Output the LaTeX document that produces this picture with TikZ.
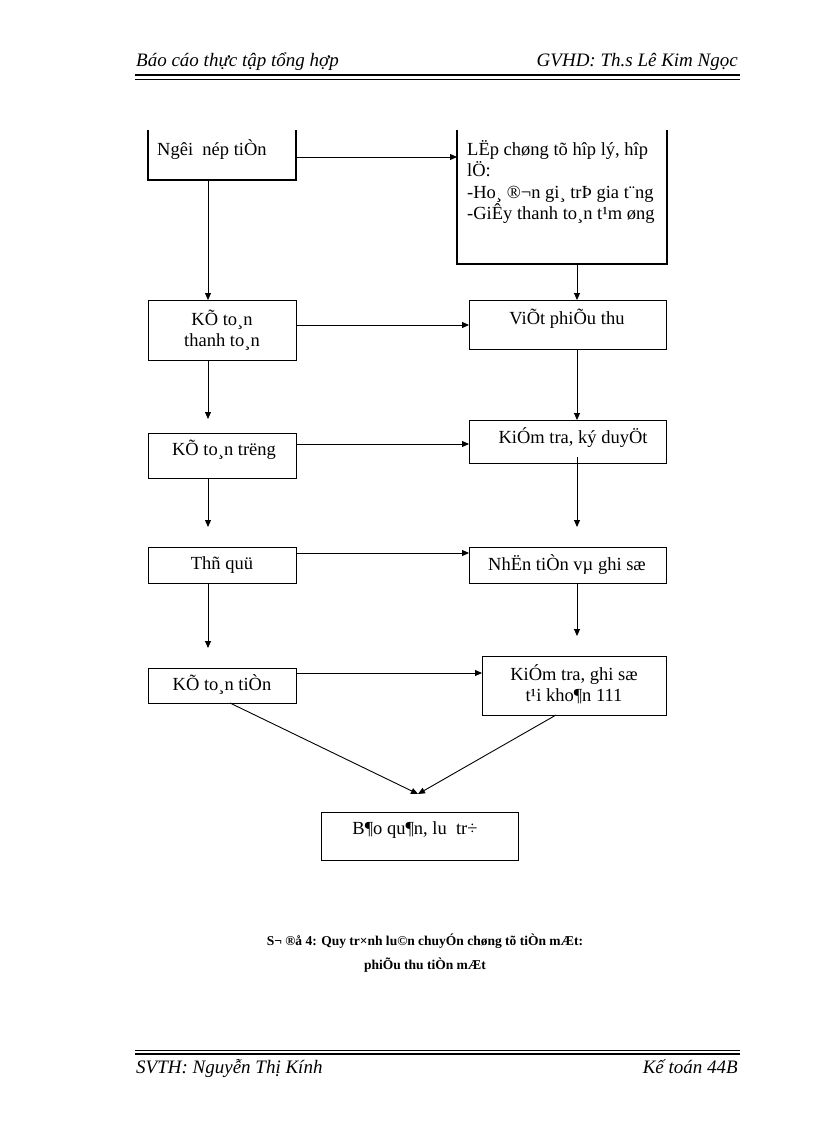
\documentclass[tikz,border=0pt]{standalone}
\usepackage{fontspec}
\setmainfont{Liberation Serif}
\usetikzlibrary{arrows.meta}
\begin{document}
\begin{tikzpicture}[x=1pt,y=-1pt,
  box/.style={draw,line width=1.1pt},
  arr/.style={-{Triangle[length=7pt,width=6pt]},line width=0.9pt},
  lab/.style={font=\fontsize{18.5}{21.5}\selectfont,align=center},
  hdr/.style={font=\fontsize{19}{22}\itshape}]
\useasboundingbox (0,0) rectangle (816,1123);
% header / footer
\node[hdr,anchor=base west,inner sep=0pt] (h1) at (136,67) {Báo cáo thực tập tổng hợp};
\node[hdr,anchor=base east,inner sep=0pt] (h2) at (738,67) {GVHD: Th.s Lê Kim Ngọc};
\draw[line width=2pt] (135,75) -- (740,75);
\draw[line width=0.6pt] (135,79) -- (740,79);
\draw[line width=0.6pt] (135,1050) -- (740,1050);
\draw[line width=2pt] (135,1054) -- (740,1054);
\node[hdr,anchor=base west,inner sep=0pt] (f1) at (136,1073) {SVTH: Nguyễn Thị Kính};
\node[hdr,anchor=base east,inner sep=0pt] (f2) at (738,1073) {Kế toán 44B};
% open-top boxes
\draw[box] (148,130) -- (148,180) -- (296,180) -- (296,130);
\draw[box] (457,130) -- (457,264) -- (667,264) -- (667,130);
\node[lab,anchor=base west,inner sep=0pt] (A) at (157,156) {Ngêi\ \ nép tiÒn};
\node[lab,anchor=north west,align=left,inner sep=0pt] (B) at (467,140) {LËp chøng tõ hîp lý, hîp\\lÖ:\\-Ho¸ ®¬n gi¸ trÞ gia t¨ng\\-GiÊy thanh to¸n t¹m øng};
\coordinate (Abot) at (208,180);
\coordinate (Aright) at (296,157);
\coordinate (Bleft) at (457,157);
\coordinate (Bbot) at (577,264);
% boxes
\node[box,minimum width=148pt,minimum height=60pt,anchor=north west,inner sep=0pt] (C) at (148,300) {};
\node[lab] (Ct) at (222,330) {KÕ to¸n\\thanh to¸n};
\node[box,minimum width=197pt,minimum height=49pt,anchor=north west,inner sep=0pt] (D) at (469,300) {};
\node[lab] (Dt) at (567,319) {ViÕt phiÕu thu};
\node[box,minimum width=148pt,minimum height=45pt,anchor=north west,inner sep=0pt] (E) at (148,433) {};
\node[lab] (Et) at (224,450) {KÕ to¸n trëng};
\node[box,minimum width=197pt,minimum height=43pt,anchor=north west,inner sep=0pt] (F) at (469,420) {};
\node[lab] (Ft) at (573,438) {KiÓm tra, ký duyÖt};
\node[box,minimum width=148pt,minimum height=36pt,anchor=north west,inner sep=0pt] (G) at (148,547) {};
\node[lab] (Gt) at (222,565) {Thñ quü};
\node[box,minimum width=197pt,minimum height=36pt,anchor=north west,inner sep=0pt] (H) at (469,547) {};
\node[lab] (Ht) at (567,565) {NhËn tiÒn vµ ghi sæ};
\node[box,minimum width=148pt,minimum height=35pt,anchor=north west,inner sep=0pt] (I) at (148,668) {};
\node[lab] (It) at (222,685) {KÕ to¸n tiÒn};
\node[box,minimum width=184pt,minimum height=59pt,anchor=north west,inner sep=0pt] (J) at (482,656) {};
\node[lab] (Jt) at (574,684) {KiÓm tra, ghi sæ\\t¹i kho¶n 111};
\node[box,minimum width=197pt,minimum height=48pt,anchor=north west,inner sep=0pt] (K) at (321,812) {};
\node[lab] (Kt) at (415,830) {B¶o qu¶n, lu\ \ tr÷};
% arrows
\coordinate (Cin) at (208,300);
\draw[arr] (Abot) -- (Cin);
\draw[arr] (Aright) -- (Bleft);
\draw[arr] (Bbot) -- (577,300);
\draw[arr] (296,325) -- (469,325);
\draw[arr] (208,360) -- (208,419);
\draw[arr] (577,349) -- (577,420);
\draw[arr] (296,444) -- (469,444);
\draw[arr] (208,478) -- (208,527);
\draw[arr] (577,457) -- (577,527);
\draw[arr] (296,553) -- (469,553);
\draw[arr] (208,583) -- (208,648);
\draw[arr] (577,583) -- (577,636);
\draw[arr] (296,673) -- (482,673);
\coordinate (Ktip) at (418,794);
\draw[arr] (230,703) -- (Ktip);
\draw[arr] (556,715) -- (Ktip);
% caption
\node[font=\fontsize{13.5}{16}\bfseries,align=center] (cap) at (425,953) {S¬ ®å 4: Quy tr×nh lu©n chuyÓn chøng tõ tiÒn mÆt:\\[8pt]phiÕu thu tiÒn mÆt};
\end{tikzpicture}
\end{document}
